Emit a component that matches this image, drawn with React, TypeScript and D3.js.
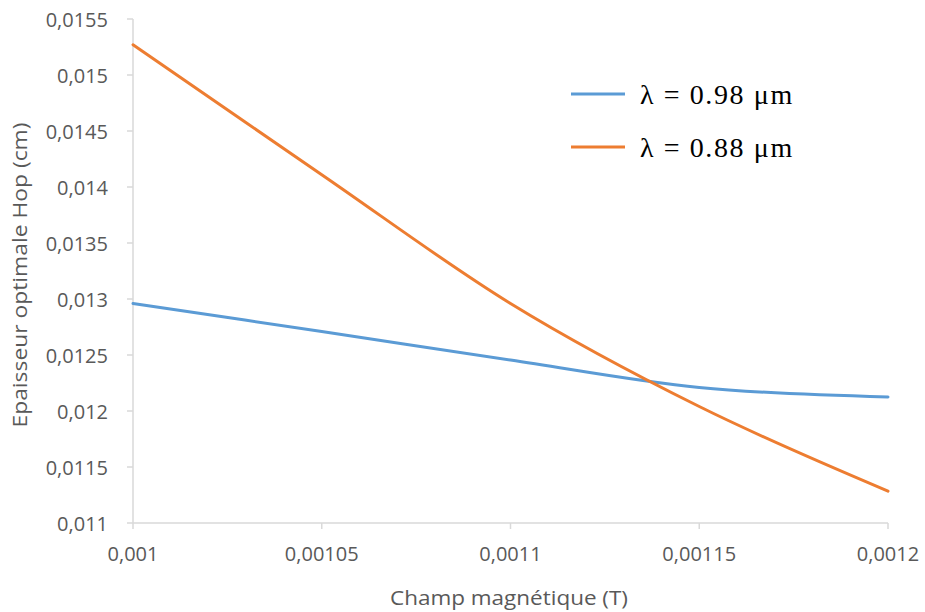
import React from "react";
import * as d3 from "d3";

// Magnetic field values (T)
const fieldValues = [0.001, 0.00105, 0.0011, 0.00115, 0.0012];
// Optimal thickness Hop (cm) for each wavelength
const hop098 = [0.01296, 0.01271, 0.012455, 0.01221, 0.012125];
const hop088 = [0.01527, 0.01411, 0.01296, 0.01204, 0.011285];

const seriesNames = ["λ = 0.98 μm", "λ = 0.88 μm"];
const seriesColors = ["#5b9bd5", "#ed7d31"];

const xTicks = [0.001, 0.00105, 0.0011, 0.00115, 0.0012];
const yTicks = [0.011, 0.0115, 0.012, 0.0125, 0.013, 0.0135, 0.014, 0.0145, 0.015, 0.0155];

const xTitle = "Champ magnétique (T)";
const yTitle = "Epaisseur optimale Hop (cm)";

const W = 925;
const H = 612;
const left = 133;
const right = 888;
const top = 19;
const bottom = 523;

const fmt = (v: number) => String(+v.toPrecision(6)).replace(".", ",");

export default function App() {
  const x = d3.scaleLinear().domain([0.001, 0.0012]).range([left, right]);
  const y = d3.scaleLinear().domain([0.011, 0.0155]).range([bottom, top]);
  const line = d3
    .line<number>()
    .x((_, i) => x(fieldValues[i]))
    .y((d) => y(d))
    .curve(d3.curveCatmullRom.alpha(0));

  const series = [hop098, hop088];
  const axisColor = "#d9d9d9";
  const textColor = "#595959";
  const font = "'Open Sans', sans-serif";

  return (
    <svg
      width={W}
      height={H}
      style={{ position: "absolute", left: 0, top: 0, background: "#fff" }}
    >
      {/* y axis */}
      <line x1={left} x2={left} y1={top} y2={bottom} stroke={axisColor} strokeWidth={1.5} />
      {yTicks.map((t) => (
        <g key={"y" + t}>
          <line x1={left - 6} x2={left} y1={y(t)} y2={y(t)} stroke={axisColor} strokeWidth={1.5} />
          <text
            x={108}
            y={y(t)}
            textAnchor="end"
            dominantBaseline="central"
            fontFamily={font}
            fontSize={20}
            fill={textColor}
          >
            {fmt(t)}
          </text>
        </g>
      ))}
      {/* x axis */}
      <line x1={left} x2={right} y1={bottom} y2={bottom} stroke={axisColor} strokeWidth={1.5} />
      {xTicks.map((t) => (
        <g key={"x" + t}>
          <line x1={x(t)} x2={x(t)} y1={bottom} y2={bottom + 6} stroke={axisColor} strokeWidth={1.5} />
          <text
            x={x(t)}
            y={553}
            textAnchor="middle"
            dominantBaseline="central"
            fontFamily={font}
            fontSize={20}
            fill={textColor}
          >
            {fmt(t)}
          </text>
        </g>
      ))}
      <text
        x={509}
        y={597}
        textAnchor="middle"
        dominantBaseline="central"
        fontFamily={font}
        fontSize={20}
        textLength={238}
        lengthAdjust="spacingAndGlyphs"
        fill={textColor}
      >
        {xTitle}
      </text>
      <text
        transform={`translate(19,${275}) rotate(-90)`}
        textAnchor="middle"
        dominantBaseline="central"
        fontFamily={font}
        fontSize={20}
        textLength={305}
        lengthAdjust="spacingAndGlyphs"
        fill={textColor}
      >
        {yTitle}
      </text>

      {/* series */}
      {series.map((s, i) => (
        <path
          key={seriesNames[i]}
          d={line(s) || ""}
          fill="none"
          stroke={seriesColors[i]}
          strokeWidth={3}
          strokeLinecap="round"
          strokeLinejoin="round"
        />
      ))}

      {/* legend */}
      {seriesNames.map((name, i) => (
        <g key={"lg" + i} transform={`translate(0,${94 + i * 53})`}>
          <line x1={571} x2={625} y1={0} y2={0} stroke={seriesColors[i]} strokeWidth={3} />
          <text
            x={640}
            y={0}
            dominantBaseline="central"
            fontFamily="'Liberation Serif', serif"
            fontSize={28}
            letterSpacing={1.6}
            fill="#000"
          >
            {name}
          </text>
        </g>
      ))}
    </svg>
  );
}
